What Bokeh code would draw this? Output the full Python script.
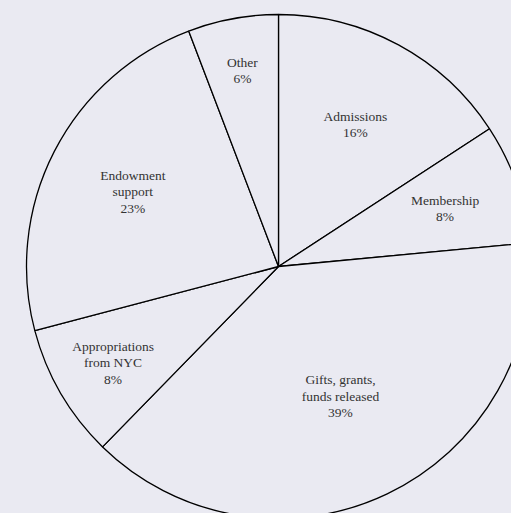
import numpy as np
from bokeh.plotting import figure
from bokeh.models import Range1d, ColumnDataSource
from bokeh.core.properties import value
from bokeh.embed import file_html
from bokeh.resources import INLINE

# ---- data ----
categories = ["Admissions", "Membership", "Gifts, grants,\nfunds released",
              "Appropriations\nfrom NYC", "Endowment\nsupport", "Other"]
shares = [15.8, 7.7, 38.8, 8.6, 23.3, 5.8]
pct_labels = ["16%", "8%", "39%", "8%", "23%", "6%"]

# ---- layout / style ----
BG = "#EAEAF2"
W, H = 511, 513
R = 252.0
CX, CY = 278.0, 266.0  # centre of pie in figure pixels (from left, from top)
label_frac = [0.64, 0.70, 0.57, 0.76, 0.65, 0.79]

vals = np.array(shares, dtype=float)
frac = vals / vals.sum()
cum_end = np.cumsum(frac)
cum_start = cum_end - frac
start = np.pi / 2 - cum_start * 2 * np.pi
end = np.pi / 2 - cum_end * 2 * np.pi
mid = (start + end) / 2

src = ColumnDataSource(dict(start=start, end=end))

p = figure(width=W, height=H, output_backend="svg", toolbar_location=None,
           x_range=Range1d(-CX, W - CX), y_range=Range1d(-(H - CY), CY),
           min_border=0, background_fill_color=BG, border_fill_color=BG,
           outline_line_color=None)
p.axis.visible = False
p.grid.visible = False

p.wedge(x=0, y=0, radius=R, start_angle="start", end_angle="end",
        direction="clock", source=src, fill_color=BG,
        line_color="black", line_width=1.3)

lx = [R * f * np.cos(a) for f, a in zip(label_frac, mid)]
ly = [R * f * np.sin(a) for f, a in zip(label_frac, mid)]
texts = [c + "\n" + pc for c, pc in zip(categories, pct_labels)]
p.text(x=lx, y=ly, text=texts, text_align="center", text_baseline="middle",
       text_font=value("Liberation Serif"), text_font_size="13.5px",
       text_color="#333333", text_line_height=1.1)

html = file_html(p, INLINE)
html = html.replace("<head>", "<head><style>html,body{background:%s;}</style>" % BG, 1)
open("out.html", "w").write(html)
